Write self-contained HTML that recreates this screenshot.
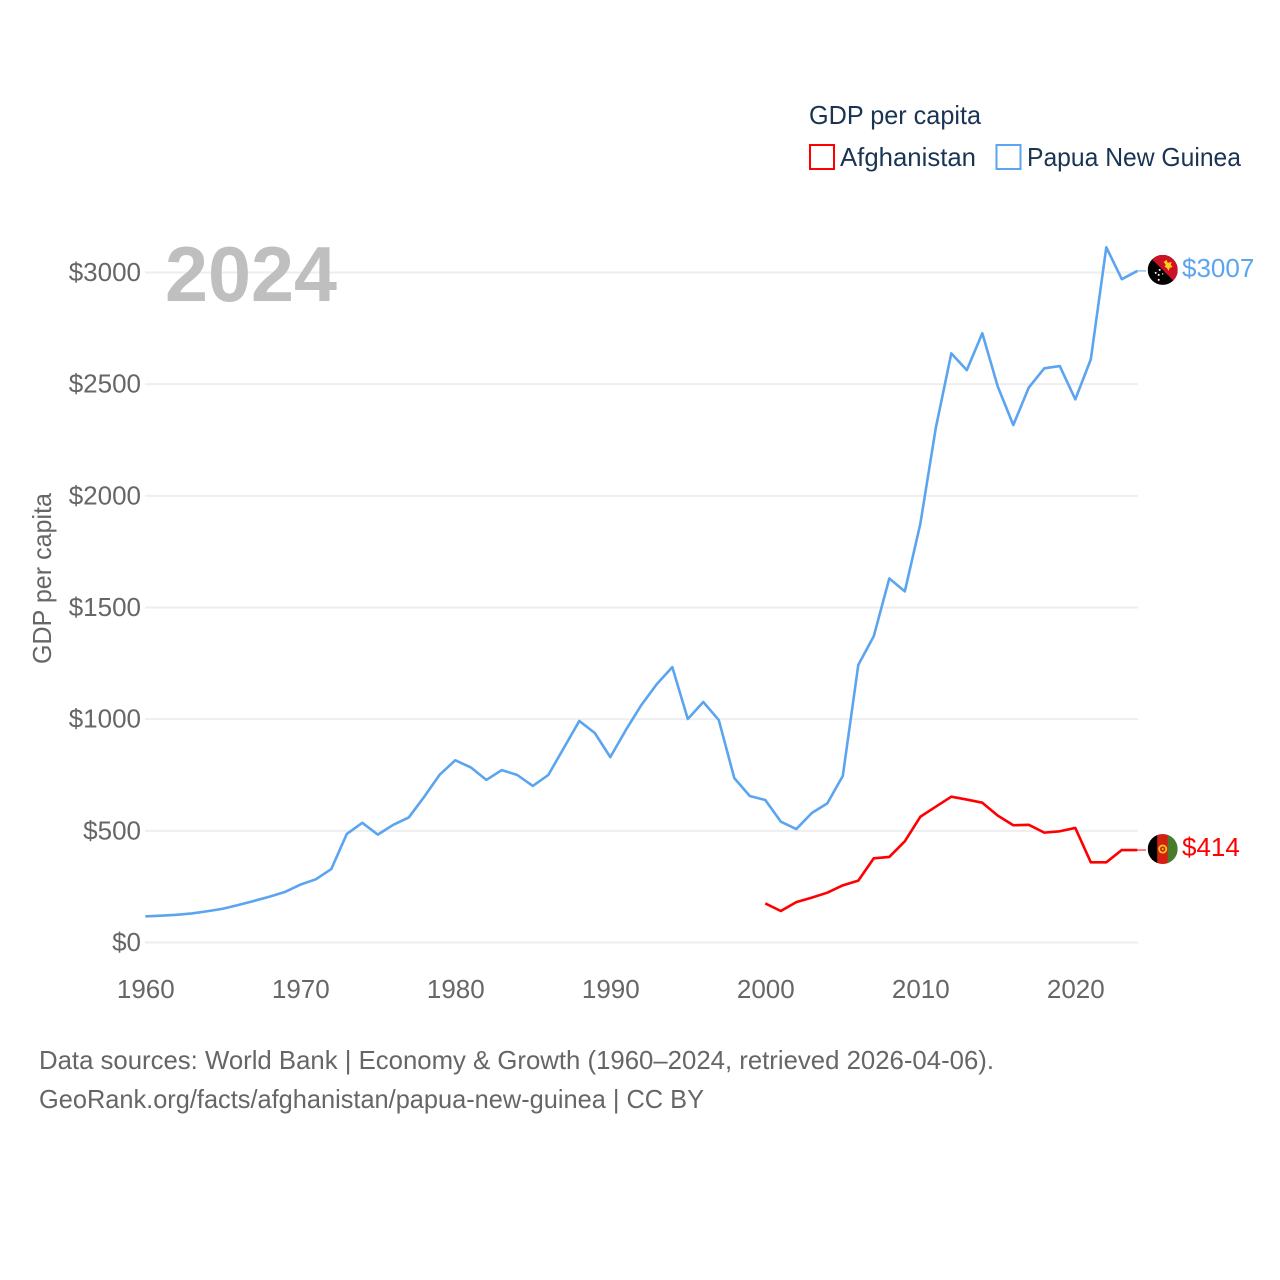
<!DOCTYPE html>
<html lang="en">
<head>
<meta charset="utf-8">
<title>GDP per capita: Afghanistan and Papua New Guinea</title>
<style>
  html, body { margin: 0; padding: 0; background: #ffffff; }
  svg { display: block; }
  text { font-family: "Liberation Sans", sans-serif; }
</style>
</head>
<body>
<svg id="chart" xmlns="http://www.w3.org/2000/svg" width="1280" height="1280" viewBox="0 0 1280 1280">
  <defs>
    <clipPath id="flag-clip"><circle cx="0" cy="0" r="15"></circle></clipPath>
  </defs>
  <g id="grid"></g>
  <g id="y-ticks"></g>
  <g id="x-ticks"></g>

  <text x="165" y="301" font-size="78" font-weight="700" fill="#bfbfbf" textLength="172" lengthAdjust="spacingAndGlyphs">2024</text>
  <text transform="translate(51 578.5) rotate(-90)" text-anchor="middle" font-size="26" fill="#666666" textLength="171" lengthAdjust="spacingAndGlyphs">GDP per capita</text>

  <g>
    <text x="809" y="124" font-size="26" fill="#1a3454" textLength="172" lengthAdjust="spacingAndGlyphs">GDP per capita</text>
    <g>
      <rect x="810" y="145" width="24" height="24" fill="none" stroke="#ff0000" stroke-width="2"></rect>
      <text x="840" y="166" font-size="26" fill="#1a3454" textLength="136" lengthAdjust="spacingAndGlyphs">Afghanistan</text>
    </g>
    <g>
      <rect x="996.5" y="145" width="24" height="24" fill="none" stroke="#5ba4f0" stroke-width="2"></rect>
      <text x="1027" y="166" font-size="26" fill="#1a3454" textLength="214" lengthAdjust="spacingAndGlyphs">Papua New Guinea</text>
    </g>
  </g>

  <g id="series"></g>

  <g id="flag-png">
    <g clip-path="url(#flag-clip)">
      <rect x="-15" y="-15" width="30" height="30" fill="#000000"></rect>
      <polygon points="-15,-15 15,-15 15,15" fill="#ce1126"></polygon>
      <path d="M1,-8 L4,-10 L5,-7 L9,-8 L8,-5 L10,-3 L7,-2 L6,1 L4,-2 L2,-3 L3,-5 Z" fill="#fcd116"></path>
      <circle cx="-7" cy="3" r="1" fill="#ffffff"></circle>
      <circle cx="-3" cy="0" r="1" fill="#ffffff"></circle>
      <circle cx="-4" cy="5" r="1" fill="#ffffff"></circle>
      <circle cx="0" cy="4" r="0.7" fill="#ffffff"></circle>
      <circle cx="-4" cy="10" r="1" fill="#ffffff"></circle>
    </g>
  </g>
  <g id="flag-afg">
    <g clip-path="url(#flag-clip)">
      <rect x="-15" y="-15" width="10" height="30" fill="#000000"></rect>
      <rect x="-5.5" y="-15" width="11" height="30" fill="#d32011"></rect>
      <rect x="5" y="-15" width="10" height="30" fill="#4a7a2c"></rect>
      <circle cx="0" cy="0" r="3.6" fill="none" stroke="#f5c518" stroke-width="1.8"></circle>
      <circle cx="0" cy="0" r="1" fill="#f5c518"></circle>
    </g>
  </g>

  <g>
    <text x="39" y="1069" font-size="26" fill="#666666" textLength="955" lengthAdjust="spacingAndGlyphs">Data sources: World Bank | Economy &amp; Growth (1960–2024, retrieved 2026-04-06).</text>
    <text x="39" y="1108" font-size="26" fill="#666666" textLength="665" lengthAdjust="spacingAndGlyphs">GeoRank.org/facts/afghanistan/papua-new-guinea | CC BY</text>
  </g>
</svg>

<script>
const pngYears = [1960,1961,1962,1963,1964,1965,1966,1967,1968,1969,1970,1971,1972,1973,1974,1975,1976,1977,1978,1979,1980,1981,1982,1983,1984,1985,1986,1987,1988,1989,1990,1991,1992,1993,1994,1995,1996,1997,1998,1999,2000,2001,2002,2003,2004,2005,2006,2007,2008,2009,2010,2011,2012,2013,2014,2015,2016,2017,2018,2019,2020,2021,2022,2023,2024];
const pngValues = [117,120,124,130,140,151,168,186,205,226,259,283,329,486,536,483,527,560,653,752,816,784,728,772,750,701,750,871,992,938,830,951,1063,1157,1233,1001,1077,996,736,656,638,541,508,580,623,746,1243,1372,1630,1572,1874,2304,2638,2563,2728,2489,2317,2485,2571,2581,2432,2611,3113,2970,3007];
const afgYears = [2000,2001,2002,2003,2004,2005,2006,2007,2008,2009,2010,2011,2012,2013,2014,2015,2016,2017,2018,2019,2020,2021,2022,2023,2024];
const afgValues = [175,141,181,201,223,256,277,377,383,453,563,608,653,640,626,568,525,527,492,498,513,359,359,414,414];
const yTickValues = [0,500,1000,1500,2000,2500,3000];
const xTickValues = [1960,1970,1980,1990,2000,2010,2020];

const SVG_NS = 'http://www.w3.org/2000/svg';
const xScale = function (year) { return 145.3 + (year - 1960) * 15.5; };
const yScale = function (value) { return 942.5 - value * (670 / 3000); };

function makeEl(tag, parentId) {
  const el = document.createElementNS(SVG_NS, tag);
  document.getElementById(parentId).appendChild(el);
  return el;
}

yTickValues.forEach(function (v) {
  const line = makeEl('line', 'grid');
  
  
  line.setAttribute('x1', 145);
  line.setAttribute('x2', 1138);
  line.setAttribute('y1', yScale(v));
  line.setAttribute('y2', yScale(v));
  line.setAttribute('stroke', '#eeeeee');
  line.setAttribute('stroke-width', 2);

  const label = makeEl('text', 'y-ticks');
  
  
  label.setAttribute('x', 141);
  label.setAttribute('y', yScale(v) + 8.5);
  label.setAttribute('text-anchor', 'end');
  label.setAttribute('font-size', 26);
  label.setAttribute('fill', '#666666');
  label.textContent = '$' + v;
});

xTickValues.forEach(function (y) {
  const label = makeEl('text', 'x-ticks');
  
  
  label.setAttribute('x', xScale(y) + 0.5);
  label.setAttribute('y', 998);
  label.setAttribute('text-anchor', 'middle');
  label.setAttribute('font-size', 26);
  label.setAttribute('fill', '#666666');
  label.textContent = y;
});

function pointsFor(years, values) {
  return years.map(function (y, i) { return xScale(y) + ',' + yScale(values[i]); }).join(' ');
}

const pngLine = makeEl('polyline', 'series');


pngLine.setAttribute('points', pointsFor(pngYears, pngValues));
pngLine.setAttribute('fill', 'none');
pngLine.setAttribute('stroke', '#5ba4f0');
pngLine.setAttribute('stroke-width', 2.6);
pngLine.setAttribute('stroke-linejoin', 'round');

const afgLine = makeEl('polyline', 'series');


afgLine.setAttribute('points', pointsFor(afgYears, afgValues));
afgLine.setAttribute('fill', 'none');
afgLine.setAttribute('stroke', '#ff0000');
afgLine.setAttribute('stroke-width', 2.6);
afgLine.setAttribute('stroke-linejoin', 'round');

const pngLast = pngValues[pngValues.length - 1];
const afgLast = afgValues[afgValues.length - 1];

const pngConnector = makeEl('line', 'series');


pngConnector.setAttribute('x1', 1137);
pngConnector.setAttribute('x2', 1146);
pngConnector.setAttribute('y1', yScale(pngLast));
pngConnector.setAttribute('y2', yScale(pngLast));
pngConnector.setAttribute('stroke', '#5ba4f0');
pngConnector.setAttribute('stroke-width', 1);

const afgConnector = makeEl('line', 'series');


afgConnector.setAttribute('x1', 1137);
afgConnector.setAttribute('x2', 1146);
afgConnector.setAttribute('y1', yScale(afgLast));
afgConnector.setAttribute('y2', yScale(afgLast));
afgConnector.setAttribute('stroke', '#ff0000');
afgConnector.setAttribute('stroke-width', 1);

const pngLabel = makeEl('text', 'series');


pngLabel.setAttribute('x', 1182);
pngLabel.setAttribute('y', yScale(pngLast) + 6);
pngLabel.setAttribute('font-size', 26);
pngLabel.setAttribute('fill', '#5ba4f0');
pngLabel.textContent = '$' + pngLast;

const afgLabel = makeEl('text', 'series');


afgLabel.setAttribute('x', 1182);
afgLabel.setAttribute('y', yScale(afgLast) + 6);
afgLabel.setAttribute('font-size', 26);
afgLabel.setAttribute('fill', '#ff0000');
afgLabel.textContent = '$' + afgLast;

document.getElementById('flag-png').setAttribute('transform', 'translate(1162.7 ' + (yScale(pngLast) - 1) + ')');
document.getElementById('flag-afg').setAttribute('transform', 'translate(1162.7 ' + (yScale(afgLast) - 1) + ')');
</script>
</body>
</html>
